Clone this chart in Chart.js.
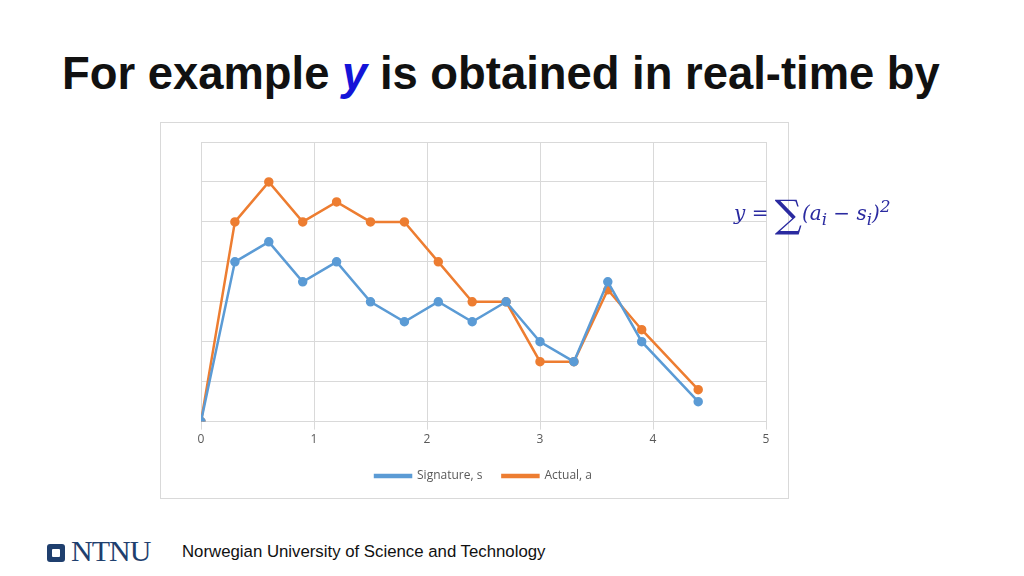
<!DOCTYPE html>
<html><head><meta charset="utf-8">
<script src="https://cdn.jsdelivr.net/npm/chart.js@4"></script>
<style>
body{margin:0;width:1024px;height:576px;background:#fff;position:relative;overflow:hidden;font-family:"Liberation Sans",Arial,sans-serif}
#title{position:absolute;left:62px;top:48px;font-size:45.4px;font-weight:bold;color:#111;white-space:nowrap}
#title i{color:#1414d8}
#box{position:absolute;left:160px;top:122px;width:629px;height:377px;border:1px solid #d9d9d9;box-sizing:border-box}
#eq{position:absolute;left:734px;top:192px;font-family:"DejaVu Serif",serif;font-size:20px;color:#2a2aa0;font-style:italic;white-space:nowrap}
#eq .s{font-size:38px;font-style:normal;vertical-align:-7px}
#foot{position:absolute;left:182px;top:542px;font-size:16.8px;color:#111}
#logo{position:absolute;left:47px;top:534px;font-family:"Liberation Serif",serif;font-size:30px;color:#1f3f6e;letter-spacing:-1px}
#logo span{display:inline-block;width:18px;height:18px;background:#1f3f6e;border-radius:3px;margin-right:6px;vertical-align:-1px;position:relative}
#logo span:after{content:"";position:absolute;left:5px;top:5px;width:8px;height:8px;background:#fff;border-radius:1px}
</style></head><body>
<div id="title">For example <i>y</i> is obtained in real-time by</div>
<div id="box"><canvas id="c" width="627" height="375"></canvas></div>
<div id="eq">y = <span class="s">∑</span>(a<sub>i</sub> − s<sub>i</sub>)<sup>2</sup></div>
<div id="logo"><span></span>NTNU</div>
<div id="foot">Norwegian University of Science and Technology</div>
<script>
const xValues=[0,0.3,0.6,0.9,1.2,1.5,1.8,2.1,2.4,2.7,3.0,3.3,3.6,3.9,4.4];
const signature=[0,4,4.5,3.5,4,3,2.5,3,2.5,3,2,1.5,3.5,2,0.5];
const actual=[0,5,6,5,5.5,5,5,4,3,3,1.5,1.5,3.3,2.3,0.8];
const seriesNames=["Signature, s","Actual, a"];
const pts=a=>xValues.map((x,i)=>({x:x,y:a[i]}));
new Chart(document.getElementById('c'),{type:'line',
data:{datasets:[
{label:seriesNames[0],data:pts(signature),borderColor:'#5b9bd5',backgroundColor:'#5b9bd5',borderWidth:2.5,pointRadius:3.5,tension:0},
{label:seriesNames[1],data:pts(actual),borderColor:'#ed7d31',backgroundColor:'#ed7d31',borderWidth:2.5,pointRadius:3.5,tension:0}]},
options:{responsive:false,animation:false,
layout:{padding:{left:40,right:22,top:19,bottom:6}},
plugins:{legend:{position:'bottom',labels:{font:{family:'Open Sans',size:12},color:'#595959',boxWidth:36,boxHeight:2,padding:20}},tooltip:{enabled:false}},
scales:{x:{type:'linear',min:0,max:5,ticks:{stepSize:1,color:'#595959',font:{family:'Open Sans',size:12}},grid:{color:'#d9d9d9'},border:{color:'#d9d9d9'}},
y:{min:0,max:7,ticks:{stepSize:1,display:false},grid:{color:'#d9d9d9',drawTicks:false},border:{color:'#d9d9d9'}}}}});
</script></body></html>
